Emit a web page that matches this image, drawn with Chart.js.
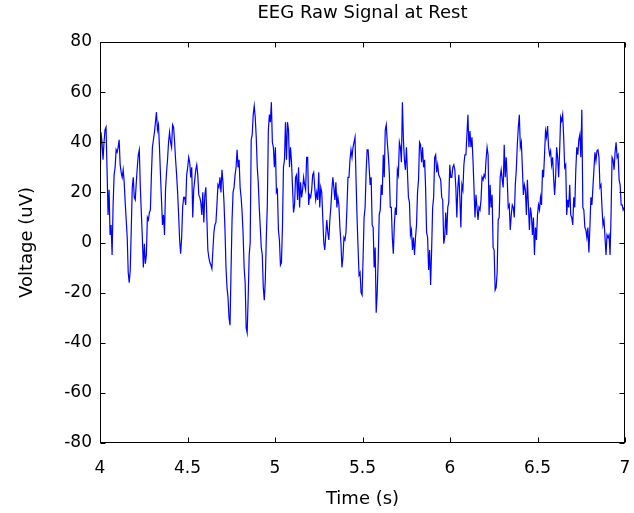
<!DOCTYPE html>
<html>
<head>
<meta charset="utf-8">
<script src="https://cdn.jsdelivr.net/npm/chart.js@4"></script>
<style>
  body { margin: 0; background: #fff; }
  #wrap { width: 634px; height: 513px; }
</style>
</head>
<body>
<div id="wrap"><canvas id="eeg"></canvas></div>
<script>
  // EEG samples, 4 s .. 7 s (sampling rate of the recording)
  const fs = 173.61;
  const tStart = 4;
  const voltage = [
    20,44,40,33,40,45,46,29,11,21,
    3,7,-5,15,27,30,37,36,38,41,
    31,28,26,29,24,16,9,2,-12,-16,
    -11,5,22,26,18,17,24,30,35,37,
    22,12,2,-10,-0.5,-8.5,-5,10,9,12,
    13,27,38,41,44,48,52,45,47,38,
    27,17,7,11,3,21,28,33,40,44,
    40,38,47,46,40,33,27,20,11,1,
    -4.5,2,14,18,18,
    15,27,30,34,32,26,30,10,21,25,
    29,31,27,19,18,16,11,20,8,19,
    22,10,-3,-6,-8,-9,-10.5,-3,4,7,
    8,15,23,22,26,20,29,24,16,5,
    -10,-18,-22,-30,-33,-11,9,20,22,27,
    30,37,30,33,22,18,12,3,-10,-16,
    -34,-36,-22,-5,0,41,43,51,54.5,50,
    42,30,24,14,6,-2,-5,-18,-23,-15,
    2,15,44.5,51,48,
    56,40,38,30,38,20,21,5,1,-9,
    -8,6,30,33,48,33,48,45,30,38,
    32,22,12,15,26,27,17,30,14,24,
    18,21,26,23,21,34,34,15,19,18,
    21,27,28,22,17,20,17,28,14,22,
    20,10,0,-3,3,9,4,1,9,14,
    21,26,22,17,24,14,18,15,6,0,
    -10,-6,2,1,4,14,26,26,33,37,
    34,38,40,42,25,
    10,-2,-13,-12,-20,-21,-6,10,14,28,
    37,37,30,23,26,7,6,-10,-2,-28,
    -20,-7,11,13,23,19,35,26,45,47,
    40,35,28,14,14,2,-4.5,7,14,11,
    29,27,40,38,32,56,41,33,29,38,
    28,18,16,3,5,-3,2,-5,2,7,
    20,25,40,39,32,38,30,33,22,4,
    2,-11,-3,-17,-3,14,18,34,35,28,
    31,27,26,25,18,
    17,-0.5,2,12,3,14,16,31,26,26,
    30,31,29,22,10,22,27,18,6,23,
    21,31,35,35,43,51,38,44.5,38,42,
    33,22,10,19,14,9,14,13,17,26,
    25,27,26,33,38,35,11,23,14,19,
    -2,-3,-19,-18,-12,9,10,26,29,25,
    22,39,26,34,25,14,15,5,11,15,
    14,10,23,29,39,46,51,38,40,30,
    19,23,21,11,25,
    15,5,14,11,3,10,-5,6,1,11,
    15,13,18,15,29,26,35,44.5,42,46.5,
    38,35,36.6,31,34,26,19,26,38,34,
    26,36.6,50,48.5,51,42,30,31,11,17,
    14,23,11,10,7,18,14,28.6,38,35,
    41,43,34,53,14,13,6,5,2,6,
    -4,6,18,15,22,29,36,32.6,36.6,37,
    34,22,23,14,7,9,2,-5,3,2,
    3,-5,11,34,33,29,36,40,34,35,
    25,23,15,15,13,14
  ];

  const xTicks = [4, 4.5, 5, 5.5, 6, 6.5, 7];
  const yTicks = [-80, -60, -40, -20, 0, 20, 40, 60, 80];

  const points = voltage.map((v, i) => ({ x: tStart + i / fs, y: v }));

  const font = 'DejaVu Sans, Liberation Sans, Arial, sans-serif';

  // matlab style box with inward ticks on all four sides
  const boxPlugin = {
    id: 'box',
    afterDraw(chart) {
      const { ctx, chartArea: a, scales } = chart;
      const L = Math.round(a.left) + 0.5, R = Math.round(a.right) - 0.5;
      const T = Math.round(a.top) + 0.5, B = Math.round(a.bottom) - 0.5;
      ctx.save();
      ctx.strokeStyle = '#000';
      ctx.lineWidth = 1;
      ctx.strokeRect(L, T, R - L, B - T);
      ctx.beginPath();
      scales.x.ticks.forEach(t => {
        const px = Math.round(scales.x.getPixelForValue(t.value)) + 0.5;
        ctx.moveTo(px, B); ctx.lineTo(px, B - 5);
        ctx.moveTo(px, T); ctx.lineTo(px, T + 5);
      });
      scales.y.ticks.forEach(t => {
        const py = Math.round(scales.y.getPixelForValue(t.value)) + 0.5;
        ctx.moveTo(L, py); ctx.lineTo(L + 5, py);
        ctx.moveTo(R, py); ctx.lineTo(R - 5, py);
      });
      ctx.stroke();
      ctx.restore();
    }
  };

  new Chart(document.getElementById('eeg'), {
    type: 'line',
    data: {
      datasets: [{
        data: points,
        borderColor: '#0000FF',
        borderWidth: 1.2,
        pointRadius: 0,
        tension: 0,
        fill: false
      }]
    },
    options: {
      responsive: true,
      maintainAspectRatio: false,
      animation: false,
      layout: { padding: { left: 0, right: 9, top: 0, bottom: 0 } },
      plugins: {
        legend: { display: false },
        tooltip: { enabled: false },
        title: {
          display: true,
          fullSize: false,
          text: 'EEG Raw Signal at Rest',
          color: '#000',
          font: { family: font, size: 18, weight: 'normal' },
          padding: { top: 3, bottom: 17.4 }
        }
      },
      scales: {
        x: {
          type: 'linear',
          min: 4,
          max: 7,
          afterBuildTicks: s => { s.ticks = xTicks.map(v => ({ value: v })); },
          afterFit: s => { s.height = 70; s.paddingLeft = 0; s.paddingRight = 0; },
          grid: { display: false, drawTicks: false },
          border: { display: false },
          ticks: {
            color: '#000',
            font: { family: font, size: 17 },
            padding: 15,
            maxRotation: 0,
            callback: v => String(v)
          },
          title: {
            display: true,
            text: 'Time (s)',
            color: '#000',
            font: { family: font, size: 18 },
            padding: { top: 0, bottom: 3 }
          }
        },
        y: {
          min: -80,
          max: 80,
          afterBuildTicks: s => { s.ticks = yTicks.map(v => ({ value: v })); },
          afterFit: s => { s.width = 100; s.paddingTop = 0; s.paddingBottom = 0; },
          grid: { display: false, drawTicks: false },
          border: { display: false },
          ticks: {
            color: '#000',
            font: { family: font, size: 17 },
            padding: 8,
            callback: v => String(v)
          },
          title: {
            display: true,
            text: 'Voltage (uV)',
            color: '#000',
            font: { family: font, size: 18 },
            padding: { top: 17, bottom: 0 }
          }
        }
      }
    },
    plugins: [boxPlugin]
  });
</script>
</body>
</html>
